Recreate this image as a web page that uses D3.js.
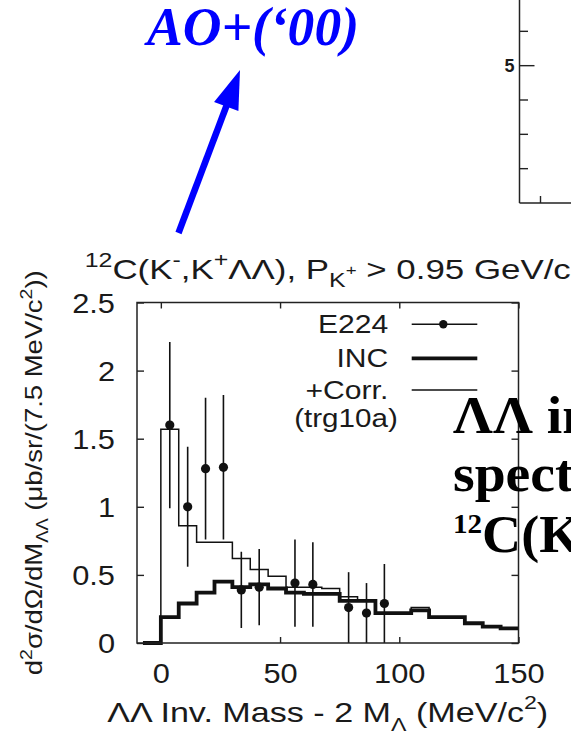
<!DOCTYPE html>
<html>
<head>
<meta charset="utf-8">
<script src="https://cdn.jsdelivr.net/npm/d3@7"></script>
<style>
  html, body { margin: 0; padding: 0; background: #fff; }
  svg { display: block; }
  text { font-family: "Liberation Sans", Arial, sans-serif; fill: #1a1a1a; }
</style>
</head>
<body>
<div id="chart"></div>
<script>
// LL invariant mass - 2 M_L, lower bin edges in MeV/c^2 (7.5 MeV bins)
var binLow = [-7.5, 0, 7.5, 15, 22.5, 30, 37.5, 45, 52.5, 60, 67.5, 75, 82.5,
              90, 97.5, 105, 112.5, 120, 127.5, 135, 142.5];
var massMax = 150;

// INC calculation (thick histogram)
var incValues = [0, 0.19, 0.29, 0.37, 0.45, 0.41, 0.43, 0.40, 0.37, 0.36, 0.36,
                 0.31, 0.31, 0.22, 0.22, 0.24, 0.19, 0.19, 0.145, 0.12, 0.108];
// INC + correlation, trg10a (thin histogram)
var corrValues = [0, 1.57, 0.86, 0.74, 0.74, 0.62, 0.54, 0.49, 0.41, 0.41, 0.40,
                  0.34, 0.31, 0.22, 0.22, 0.26, 0.19, 0.19, 0.145, 0.12, 0.108];

// E224 data points with errors
var e224Mass  = [3.75, 11.25, 18.75, 26.25, 33.75, 41.25, 56.25, 63.75, 78.75, 86.25, 93.75];
var e224Value = [1.60, 1.00, 1.28, 1.29, 0.39, 0.41, 0.44, 0.43, 0.26, 0.22, 0.29];
var e224Error = [0.61, 0.44, 0.52, 0.53, 0.28, 0.28, 0.32, 0.31, 0.26, 0.22, 0.29];

var xTicks = [0, 50, 100, 150];
var yTicks = [0, 0.5, 1, 1.5, 2, 2.5];
var legendLabels = ["E224", "INC", "+Corr."];

// neighbouring panel (only its left axis is visible)
var insetTicks = [2, 3, 4, 5, 6, 7];
var insetLabels = [5];

var svgWidth = 571;
var svgHeight = 739;

var margin = { top: 302.5, right: 52.5, bottom: 96, left: 137 };
var width = svgWidth - margin.left - margin.right;
var height = svgHeight - margin.top - margin.bottom;

var svg = d3.select("#chart")
  .append("svg")
  .attr("width", svgWidth)
  .attr("height", svgHeight);

// gnuplot text is wider than Arial, so stretch glyphs a bit
function widen(sel, k) {
  sel.each(function() {
    var w = this.getComputedTextLength();
    d3.select(this).attr("textLength", w * k).attr("lengthAdjust", "spacingAndGlyphs");
  });
}
function fitTo(sel, len) {
  sel.attr("textLength", len).attr("lengthAdjust", "spacingAndGlyphs");
}

var x = d3.scaleLinear().domain([-10, massMax]).range([0, width]);
var y = d3.scaleLinear().domain([0, 2.5]).range([height, 0]);

var chartGroup = svg.append("g")
  .attr("transform", `translate(${margin.left}, ${margin.top})`);

chartGroup.append("clipPath").attr("id", "plotClip")
  .append("rect").attr("width", width).attr("height", height);

// axes, ticks pointing inward
var bottomAxis = d3.axisBottom(x).tickValues(xTicks).tickSize(-6).tickPadding(20.5);
var topAxis = d3.axisTop(x).tickValues(xTicks).tickSize(-6).tickFormat("");
var leftAxis = d3.axisLeft(y).tickValues(yTicks).tickSize(-7).tickPadding(22).tickFormat(d3.format(""));
var rightAxis = d3.axisRight(y).tickValues(yTicks).tickSize(-7).tickFormat("");

var gx = chartGroup.append("g").attr("transform", `translate(0, ${height})`).call(bottomAxis);
chartGroup.append("g").call(topAxis);
var gy = chartGroup.append("g").call(leftAxis);
chartGroup.append("g").attr("transform", `translate(${width}, 0)`).call(rightAxis);

chartGroup.selectAll(".domain").remove();
chartGroup.selectAll(".tick line").attr("stroke", "#222").attr("stroke-width", 1.4);
chartGroup.selectAll(".tick text").attr("font-size", 27).attr("fill", "#1a1a1a");
gy.selectAll(".tick text").attr("dy", "0.36em");
widen(gx.selectAll(".tick text"), 1.14);
widen(gy.selectAll(".tick text"), 1.14);

// histograms
var stepLine = d3.line()
  .x(d => x(d[0]))
  .y(d => y(d[1]))
  .curve(d3.curveStepAfter);

function histPoints(vals) {
  var pts = binLow.map((b, i) => [b, vals[i]]);
  pts.push([massMax, vals[vals.length - 1]]);
  return pts;
}

chartGroup.append("path")
  .attr("d", stepLine(histPoints(corrValues)))
  .attr("fill", "none")
  .attr("stroke", "#111")
  .attr("stroke-width", 1.5);

chartGroup.append("path")
  .attr("d", stepLine(histPoints(incValues)))
  .attr("fill", "none")
  .attr("stroke", "#111")
  .attr("stroke-width", 3.8)
  .attr("stroke-linejoin", "miter");

// E224 points with error bars
var points = e224Mass.map((m, i) => ({ m: m, v: e224Value[i], e: e224Error[i] }));

var dataGroup = chartGroup.append("g").attr("clip-path", "url(#plotClip)");
dataGroup.selectAll("line.err")
  .data(points)
  .enter()
  .append("line")
  .attr("class", "err")
  .attr("x1", d => x(d.m))
  .attr("x2", d => x(d.m))
  .attr("y1", d => y(d.v - d.e))
  .attr("y2", d => y(d.v + d.e))
  .attr("stroke", "#111")
  .attr("stroke-width", 1.6);

dataGroup.selectAll("circle")
  .data(points)
  .enter()
  .append("circle")
  .attr("cx", d => x(d.m))
  .attr("cy", d => y(d.v))
  .attr("r", 4.6)
  .attr("fill", "#111");

// frame
chartGroup.append("rect")
  .attr("width", width)
  .attr("height", height)
  .attr("fill", "none")
  .attr("stroke", "#222")
  .attr("stroke-width", 1.5);

// legend
var legend = chartGroup.append("g");
var legendY = [21.8, 55.8, 87.5];
var legendText = legend.selectAll("text.lab")
  .data(legendLabels)
  .enter()
  .append("text")
  .attr("class", "lab")
  .attr("x", 251.3)
  .attr("y", (d, i) => legendY[i] + 9)
  .attr("text-anchor", "end")
  .attr("font-size", 25.5)
  .text(d => d);
widen(legendText, 1.18);

var subLab = legend.append("text")
  .attr("x", 209)
  .attr("y", 124)
  .attr("text-anchor", "middle")
  .attr("font-size", 25.5)
  .text("(trg10a)");
widen(subLab, 1.16);

legend.selectAll("line.key")
  .data(legendLabels)
  .enter()
  .append("line")
  .attr("class", "key")
  .attr("x1", 274.7)
  .attr("x2", 340.3)
  .attr("y1", (d, i) => legendY[i])
  .attr("y2", (d, i) => legendY[i])
  .attr("stroke", "#111")
  .attr("stroke-width", (d, i) => i === 1 ? 3.8 : 1.5);

legend.append("circle")
  .attr("cx", 306.3)
  .attr("cy", legendY[0])
  .attr("r", 4.2)
  .attr("fill", "#111");

// title
var title = svg.append("text")
  .attr("x", margin.left + width / 2)
  .attr("y", 278.5)
  .attr("text-anchor", "middle")
  .attr("font-size", 28);
title.append("tspan").attr("font-size", 20).attr("dy", -12).text("12");
title.append("tspan").attr("dy", 12).text("C(K");
title.append("tspan").attr("font-size", 20).attr("dy", -12).text("-");
title.append("tspan").attr("dy", 12).text(",K");
title.append("tspan").attr("font-size", 20).attr("dy", -12).text("+");
title.append("tspan").attr("dy", 12).text("ΛΛ), P");
title.append("tspan").attr("font-size", 20).attr("dy", 8).text("K");
title.append("tspan").attr("font-size", 15).attr("dy", -12).text("+");
title.append("tspan").attr("dy", 4).text(" > 0.95 GeV/c");
fitTo(title, 486);

// x label
var xLabel = svg.append("text")
  .attr("x", margin.left + width / 2)
  .attr("y", 722)
  .attr("text-anchor", "middle")
  .attr("font-size", 28);
xLabel.append("tspan").text("ΛΛ Inv. Mass - 2 M");
xLabel.append("tspan").attr("font-size", 19).attr("dy", 9).text("Λ");
xLabel.append("tspan").attr("dy", -9).text(" (MeV/c");
xLabel.append("tspan").attr("font-size", 19).attr("dy", -13).text("2");
xLabel.append("tspan").attr("dy", 13).text(")");
fitTo(xLabel, 441);

// y label
var yLabel = svg.append("text")
  .attr("transform", `translate(41.7, ${margin.top + height / 2}) rotate(-90)`)
  .attr("text-anchor", "middle")
  .attr("font-size", 24);
yLabel.append("tspan").text("d");
yLabel.append("tspan").attr("font-size", 17).attr("dy", -10).text("2");
yLabel.append("tspan").attr("dy", 10).text("σ/dΩ/dM");
yLabel.append("tspan").attr("font-size", 16).attr("dy", 6).text("ΛΛ");
yLabel.append("tspan").attr("dy", -6).text(" (μb/sr/(7.5 MeV/c");
yLabel.append("tspan").attr("font-size", 17).attr("dy", -10).text("2");
yLabel.append("tspan").attr("dy", 10).text("))");
fitTo(yLabel, 405);

// left axis of the neighbouring panel
var insetY = d3.scaleLinear().domain([1, 7]).range([203, -3]);
var inset = svg.append("g").attr("transform", "translate(519.5, 0)");
inset.append("line")
  .attr("x1", 0).attr("x2", 0).attr("y1", 0).attr("y2", insetY(1))
  .attr("stroke", "#222").attr("stroke-width", 1.5);
inset.append("line")
  .attr("x1", 0).attr("x2", svgWidth).attr("y1", insetY(1)).attr("y2", insetY(1))
  .attr("stroke", "#222").attr("stroke-width", 1.5);
inset.selectAll("line.tick")
  .data(insetTicks)
  .enter()
  .append("line")
  .attr("class", "tick")
  .attr("x1", 0)
  .attr("x2", d => insetLabels.indexOf(d) >= 0 ? 15 : 8.5)
  .attr("y1", d => insetY(d))
  .attr("y2", d => insetY(d))
  .attr("stroke", "#222")
  .attr("stroke-width", 1.4);
inset.append("line")
  .attr("x1", 21).attr("x2", 21).attr("y1", insetY(1)).attr("y2", insetY(1) - 7)
  .attr("stroke", "#222").attr("stroke-width", 1.4);
inset.selectAll("text")
  .data(insetLabels)
  .enter()
  .append("text")
  .attr("x", -5)
  .attr("y", d => insetY(d))
  .attr("dy", "0.36em")
  .attr("text-anchor", "end")
  .attr("font-size", 18)
  .attr("font-weight", "bold")
  .attr("fill", "#333")
  .text(d => d);

// slide annotation: reference label and arrow
svg.append("text")
  .attr("x", 253)
  .attr("y", 45)
  .attr("text-anchor", "middle")
  .style("font-family", "'Liberation Serif', 'Times New Roman', serif")
  .attr("font-size", 54)
  .attr("font-weight", "bold")
  .attr("font-style", "italic")
  .style("fill", "#0000ff")
  .attr("textLength", 212)
  .attr("lengthAdjust", "spacingAndGlyphs")
  .text("AO+(\u201800)");

var tail = [178.5, 233], tip = [240, 70];
var dx = tip[0] - tail[0], dy = tip[1] - tail[1];
var len = Math.sqrt(dx * dx + dy * dy);
var ux = dx / len, uy = dy / len;
var headLen = 39, headHalf = 13;
var bx = tip[0] - ux * headLen, by = tip[1] - uy * headLen;
svg.append("line")
  .attr("x1", tail[0]).attr("y1", tail[1])
  .attr("x2", bx + ux * 4).attr("y2", by + uy * 4)
  .attr("stroke", "#0000ff")
  .attr("stroke-width", 6.5);
svg.append("polygon")
  .attr("points", [
    tip,
    [bx - uy * headHalf, by + ux * headHalf],
    [bx + uy * headHalf, by - ux * headHalf]
  ].map(p => p.join(",")).join(" "))
  .attr("fill", "#0000ff");

// slide caption overlapping the panel
var serif = "'Liberation Serif', 'Times New Roman', serif";
var caption = svg.append("g")
  .attr("font-weight", "bold")
  .attr("font-size", 52);
var cap1 = caption.append("text").attr("x", 453).attr("y", 433)
  .style("font-family", serif).style("fill", "#000")
  .text("ΛΛ invariant");
var cap2 = caption.append("text").attr("x", 453).attr("y", 491)
  .style("font-family", serif).style("fill", "#000")
  .text("spectrum");
var cap3 = caption.append("text").attr("x", 453).attr("y", 552)
  .style("font-family", serif).style("fill", "#000");
cap3.append("tspan").attr("font-size", 28).attr("dy", -19).text("12");
cap3.append("tspan").attr("dy", 19).text("C(K");
widen(cap1, 1.07);
widen(cap2, 1.07);
widen(cap3, 1.04);
</script>
</body>
</html>
